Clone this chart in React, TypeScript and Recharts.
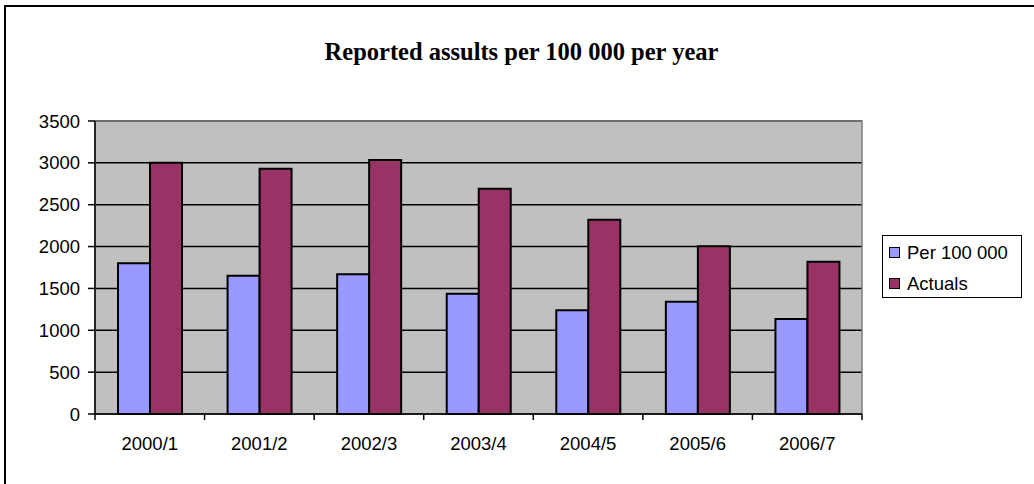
import React from "react";
import {
  BarChart,
  Bar,
  XAxis,
  YAxis,
  CartesianGrid,
  ReferenceArea,
} from "recharts";

const categories = ["2000/1", "2001/2", "2002/3", "2003/4", "2004/5", "2005/6", "2006/7"];
const per100k = [1800, 1650, 1670, 1435, 1240, 1340, 1135];
const actuals = [3000, 2930, 3035, 2690, 2320, 2005, 1820];
const yTicks = [0, 500, 1000, 1500, 2000, 2500, 3000, 3500];

const series = [
  { key: "per100k", name: "Per 100 000", color: "#9999FF" },
  { key: "actuals", name: "Actuals", color: "#993366" },
];

const data = categories.map((cat, i) => ({
  cat,
  per100k: per100k[i],
  actuals: actuals[i],
}));

const W = 1034;
const H = 484;
const PLOT_LEFT = 95;
const PLOT_RIGHT = 862;
const PLOT_TOP = 121;
const PLOT_BOTTOM = 414;
const BAND = (PLOT_RIGHT - PLOT_LEFT) / categories.length;
const FONT = "'Liberation Sans', Arial, sans-serif";

// tick marks sit between categories, not under them
function CategoryTick(props: any) {
  const { x, y, payload, index } = props;
  const last = index === categories.length - 1;
  return (
    <g>
      <line x1={x - BAND / 2} x2={x - BAND / 2} y1={y - 6} y2={y} stroke="#000" strokeWidth={1.5} />
      {last && (
        <line x1={x + BAND / 2} x2={x + BAND / 2} y1={y - 6} y2={y} stroke="#000" strokeWidth={1.5} />
      )}
      <text x={x} y={y + 30} textAnchor="middle" fontSize={18.5} fontFamily={FONT} fill="#000">
        {payload.value}
      </text>
    </g>
  );
}

export default function App() {
  return (
    <div style={{ position: "absolute", left: 0, top: 0, width: W, height: H, background: "#fff" }}>
      <div
        style={{
          position: "absolute",
          left: 4,
          top: 5,
          width: W,
          height: H,
          borderLeft: "2px solid #000",
          borderTop: "2px solid #000",
          boxSizing: "border-box",
        }}
      />
      <div
        style={{
          position: "absolute",
          left: 0,
          top: 40,
          width: 1043,
          textAlign: "center",
          fontFamily: "'Liberation Serif', serif",
          fontWeight: "bold",
          fontSize: 24.5,
          lineHeight: "23px",
          color: "#000",
        }}
      >
        Reported assults per 100 000 per year
      </div>
      <div style={{ position: "absolute", left: 0, top: 0 }}>
        <BarChart
          width={W}
          height={H}
          data={data}
          margin={{ top: PLOT_TOP, right: W - PLOT_RIGHT, bottom: 0, left: 0 }}
          barCategoryGap="21%"
          barGap={0}
        >
          <CartesianGrid vertical={false} stroke="#000" strokeWidth={1.5} fill="#C0C0C0" fillOpacity={1} />
          <ReferenceArea y1={0} y2={3500} fill="none" stroke="#808080" strokeWidth={1.5} />
          <XAxis
            dataKey="cat"
            height={H - PLOT_BOTTOM}
            axisLine={{ stroke: "#000", strokeWidth: 1.5 }}
            tickLine={false}
            tickSize={6}
            tickMargin={0}
            interval={0}
            tick={<CategoryTick />}
          />
          <YAxis
            width={PLOT_LEFT}
            domain={[0, 3500]}
            ticks={yTicks}
            interval={0}
            axisLine={{ stroke: "#000", strokeWidth: 1.5 }}
            tickLine={{ stroke: "#000", strokeWidth: 1.5 }}
            tickSize={7}
            tickMargin={8}
            tick={{ fontSize: 18.5, fontFamily: FONT, fill: "#000" }}
          />
          {series.map((s) => (
            <Bar
              key={s.key}
              dataKey={s.key}
              name={s.name}
              fill={s.color}
              stroke="#000"
              strokeWidth={2}
              isAnimationActive={false}
            />
          ))}
        </BarChart>
      </div>
      <div
        style={{
          position: "absolute",
          left: 882,
          top: 235,
          width: 140,
          height: 63,
          border: "1.5px solid #000",
          boxSizing: "border-box",
          background: "#fff",
          fontFamily: FONT,
          fontSize: 18.5,
          color: "#000",
          paddingTop: 1,
        }}
      >
        {series.map((s) => (
          <div key={s.key} style={{ display: "flex", alignItems: "center", height: 31, paddingLeft: 6 }}>
            <span
              style={{
                display: "inline-block",
                width: 11,
                height: 11,
                boxSizing: "border-box",
                background: s.color,
                border: "1px solid #000",
                marginRight: 7,
              }}
            />
            <span>{s.name}</span>
          </div>
        ))}
      </div>
    </div>
  );
}
